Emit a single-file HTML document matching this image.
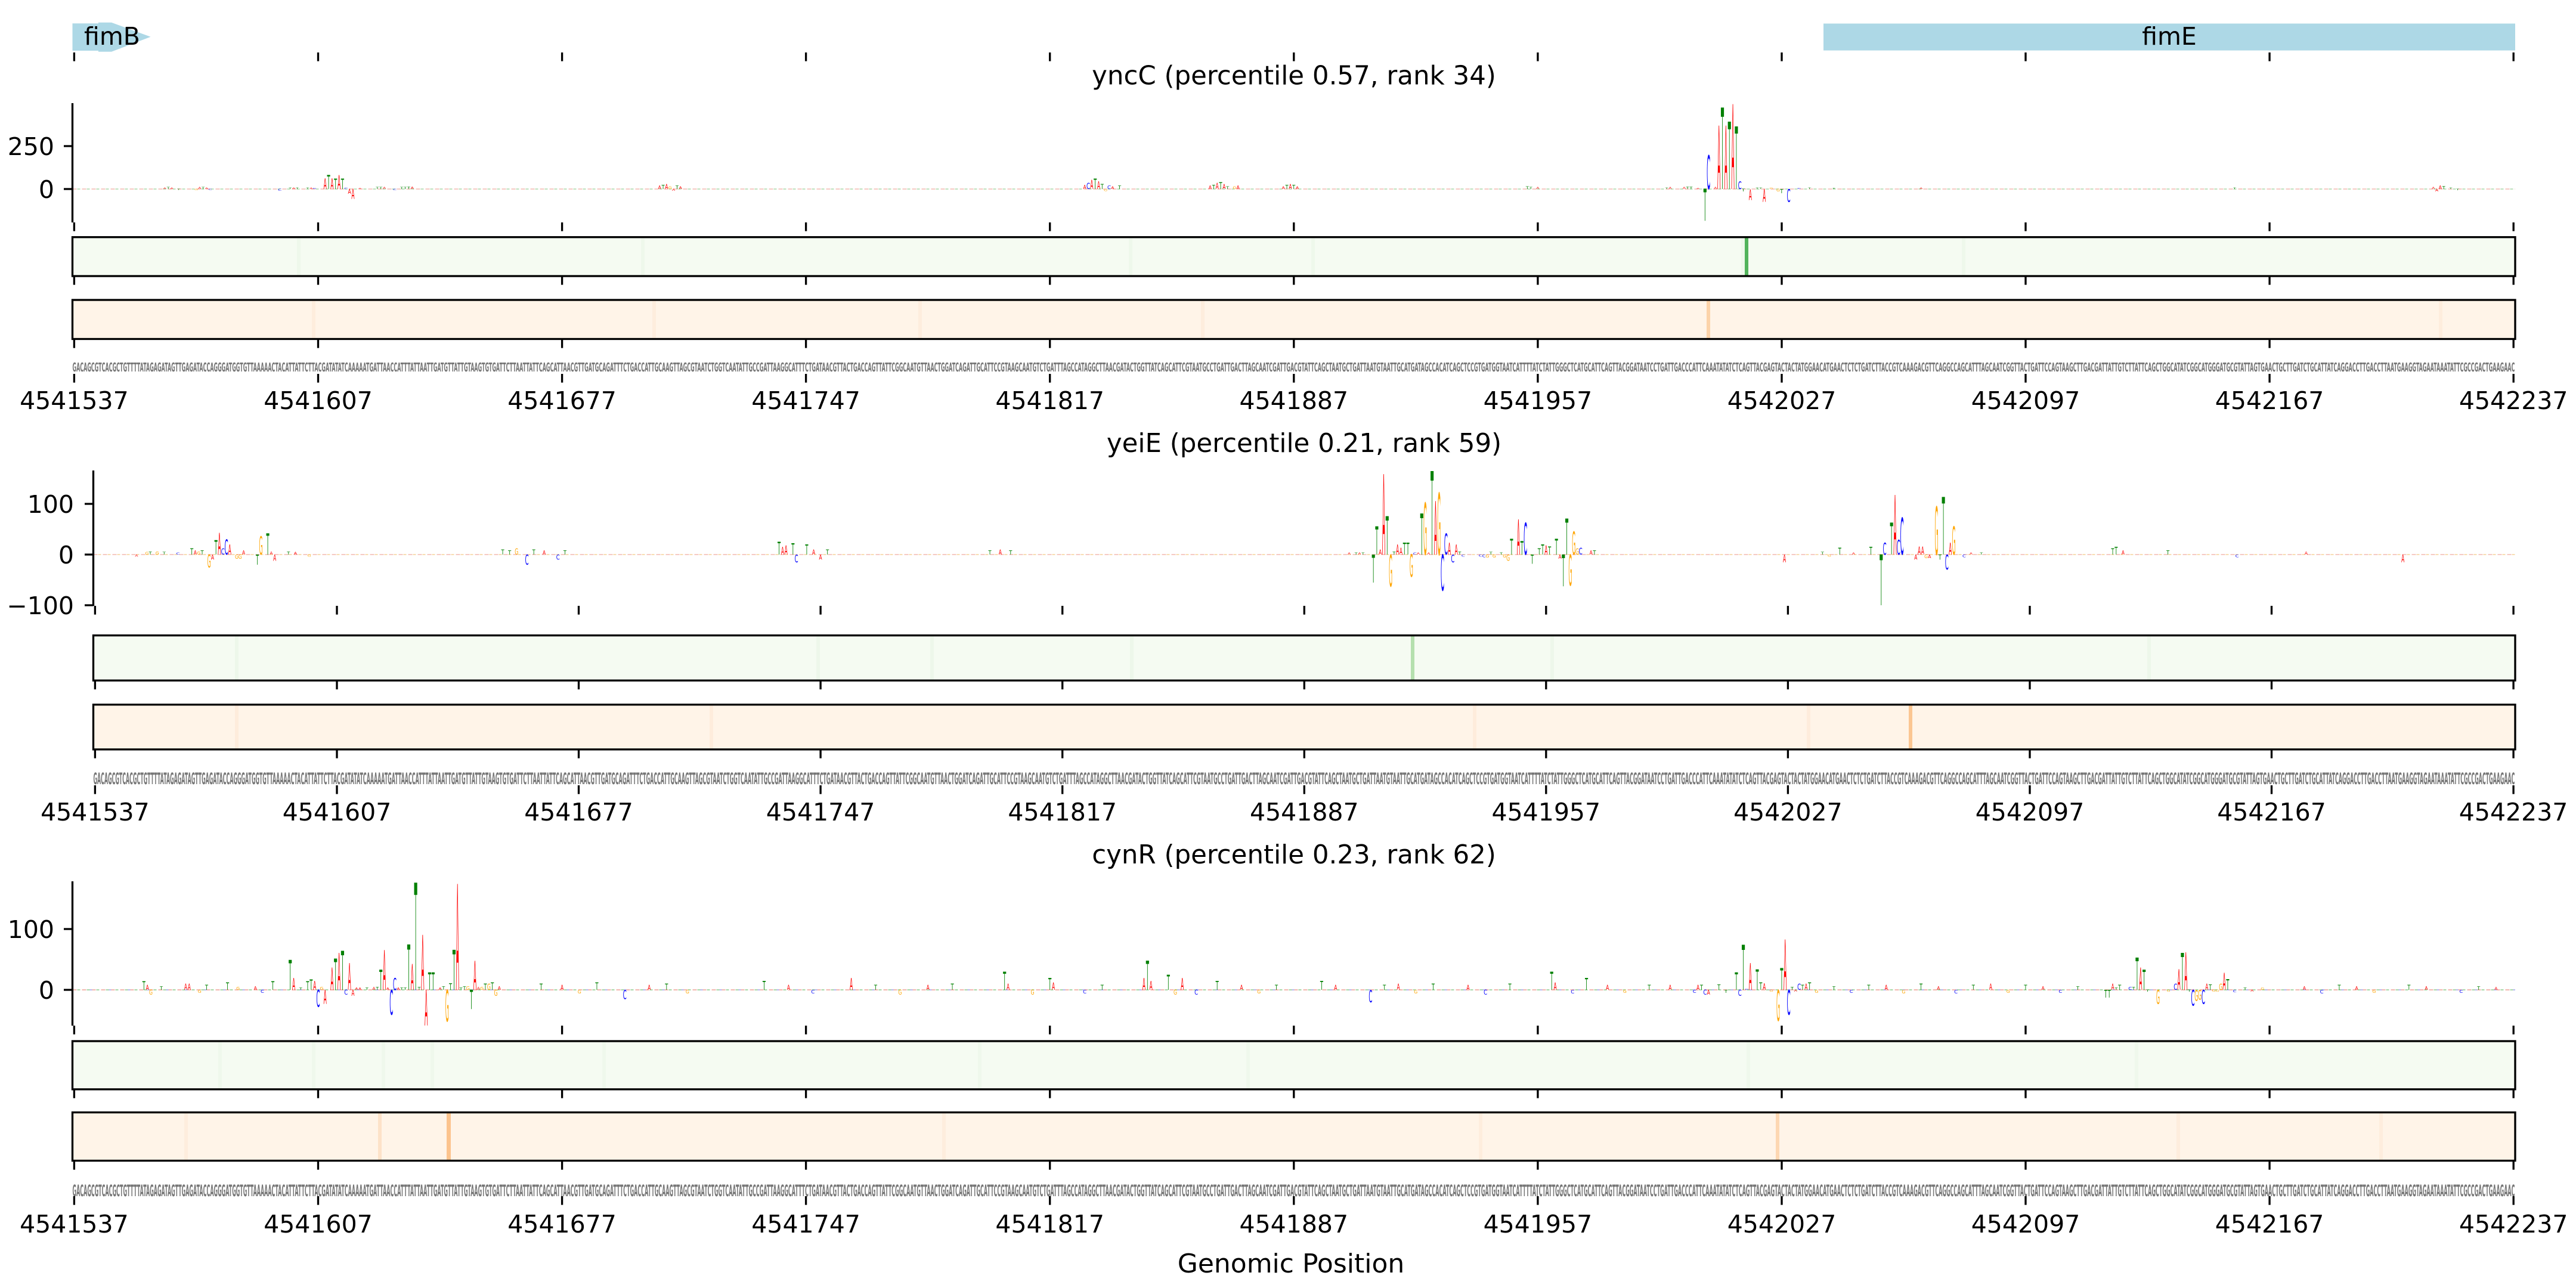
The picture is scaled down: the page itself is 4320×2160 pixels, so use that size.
<!DOCTYPE html>
<html><head><meta charset="utf-8"><style>
html,body{margin:0;padding:0;background:#fff}
svg{display:block}
.A{fill:#ff0000}.C{fill:#0000ff}.G{fill:#ffa500}.T{fill:#008000}
.lg text{font-family:"DejaVu Sans",sans-serif;font-size:100px;text-anchor:middle}
.tl{font-family:"DejaVu Sans",sans-serif;font-size:41px;text-anchor:middle;fill:#000}
.yl{font-family:"DejaVu Sans",sans-serif;font-size:41px;text-anchor:end;fill:#000}
.ti{font-family:"DejaVu Sans",sans-serif;font-size:43.5px;text-anchor:middle;fill:#000}
.sq{font-family:"DejaVu Sans",sans-serif;fill:#767676;font-weight:bold}
</style></head><body>
<svg width="4320" height="2160" viewBox="0 0 4320 2160" xmlns="http://www.w3.org/2000/svg">
<rect width="4320" height="2160" fill="#fff"/>
<defs>
<path id="t1" d="M124.4 0v14.6M533.5 0v14.6M942.6 0v14.6M1351.6 0v14.6M1760.7 0v14.6M2169.8 0v14.6M2578.9 0v14.6M2988 0v14.6M3397 0v14.6M3806.1 0v14.6M4215.2 0v14.6" stroke="#000" stroke-width="3.33" fill="none"/>
<path id="t2" d="M159.4 0v14.6M565 0v14.6M970.5 0v14.6M1376.1 0v14.6M1781.7 0v14.6M2187.3 0v14.6M2592.8 0v14.6M2998.4 0v14.6M3404 0v14.6M3809.5 0v14.6M4215.1 0v14.6" stroke="#000" stroke-width="3.33" fill="none"/>
</defs>

<!-- gene track -->
<polygon points="121.5,39.3 165,39.3 165,37.7 187,37.7 252.6,61.7 187,86.7 165,86.7 165,85 121.5,85" fill="#add8e6"/>
<rect x="3058" y="39.5" width="1160" height="45.1" fill="#add8e6"/>
<text class="tl" x="188" y="75">fimB</text>
<text class="tl" x="3638" y="75">fimE</text>
<use href="#t1" y="88"/>

<!-- ================= PANEL 1 ================= -->
<text class="ti" x="2170" y="141.5">yncC (percentile 0.57, rank 34)</text>
<line x1="121.5" y1="317" x2="4218" y2="317" stroke="#f3b8b0" stroke-width="1.6" stroke-dasharray="7 9"/>
<line x1="121.5" y1="317" x2="4218" y2="317" stroke="#a8d8a8" stroke-width="1.6" stroke-dasharray="5 11" stroke-dashoffset="8"/>
<svg x="121.5" y="173" width="4096.5" height="200" viewBox="-0.5 -500 701 695" preserveAspectRatio="none" overflow="visible" class="lg">
<text class="A" transform="translate(26,0)scale(.0129,.11)">A</text>
<text class="T" transform="translate(27,0)scale(.0144,.137)">T</text>
<text class="A" transform="translate(28,0)scale(.0129,.11)">A</text>
<text class="T" transform="translate(30,6)scale(.0144,.082)">T</text>
<text class="G" transform="translate(35,8)scale(.0133,.11)">G</text>
<text class="A" transform="translate(36,0)scale(.0129,.137)">A</text>
<text class="T" transform="translate(37,0)scale(.0144,.137)">T</text>
<text class="A" transform="translate(38,0)scale(.0129,.11)">A</text>
<text class="C" transform="translate(39,6)scale(.0147,.082)">C</text>
<text class="C" transform="translate(59,10)scale(.0147,.137)">C</text>
<text class="T" transform="translate(62,0)scale(.0144,.11)">T</text>
<text class="A" transform="translate(63,0)scale(.0129,.11)">A</text>
<text class="T" transform="translate(64,0)scale(.0144,.11)">T</text>
<text class="T" transform="translate(67,0)scale(.0144,.11)">T</text>
<text class="A" transform="translate(68,0)scale(.0129,.11)">A</text>
<text class="C" transform="translate(69,0)scale(.0147,.082)">C</text>
<text class="A" transform="translate(72,0)scale(.0129,.877)">A</text>
<text class="T" transform="translate(73,0)scale(.0144,1.11)">T</text>
<text class="A" transform="translate(74,0)scale(.0129,.877)">A</text>
<text class="T" transform="translate(75,0)scale(.0144,.822)">T</text>
<text class="A" transform="translate(76,0)scale(.0129,1.11)">A</text>
<text class="T" transform="translate(77,0)scale(.0144,.836)">T</text>
<text class="C" transform="translate(78,0)scale(.0147,.11)">C</text>
<text class="A" transform="translate(79,29)scale(.0129,.397)">A</text>
<text class="A" transform="translate(80,58)scale(.0129,.795)">A</text>
<text class="A" transform="translate(82,0)scale(.0129,.082)">A</text>
<text class="T" transform="translate(87,0)scale(.0144,.137)">T</text>
<text class="T" transform="translate(88,0)scale(.0144,.164)">T</text>
<text class="A" transform="translate(89,0)scale(.0129,.137)">A</text>
<text class="C" transform="translate(92,8)scale(.0147,.11)">C</text>
<text class="T" transform="translate(94,0)scale(.0144,.137)">T</text>
<text class="T" transform="translate(95,0)scale(.0144,.164)">T</text>
<text class="T" transform="translate(96,0)scale(.0144,.192)">T</text>
<text class="A" transform="translate(97,0)scale(.0129,.192)">A</text>
<text class="A" transform="translate(168,0)scale(.0129,.274)">A</text>
<text class="T" transform="translate(169,0)scale(.0144,.342)">T</text>
<text class="A" transform="translate(170,0)scale(.0129,.411)">A</text>
<text class="G" transform="translate(171,0)scale(.0133,.205)">G</text>
<text class="A" transform="translate(172,10)scale(.0129,.137)">A</text>
<text class="T" transform="translate(173,0)scale(.0144,.274)">T</text>
<text class="A" transform="translate(174,0)scale(.0129,.205)">A</text>
<text class="A" transform="translate(290,0)scale(.0129,.342)">A</text>
<text class="C" transform="translate(291,0)scale(.0147,.479)">C</text>
<text class="A" transform="translate(292,0)scale(.0129,.753)">A</text>
<text class="T" transform="translate(293,0)scale(.0144,.822)">T</text>
<text class="A" transform="translate(294,0)scale(.0129,.616)">A</text>
<text class="T" transform="translate(295,0)scale(.0144,.411)">T</text>
<text class="G" transform="translate(296,12)scale(.0133,.164)">G</text>
<text class="C" transform="translate(297,0)scale(.0147,.274)">C</text>
<text class="A" transform="translate(298,0)scale(.0129,.205)">A</text>
<text class="T" transform="translate(300,0)scale(.0144,.274)">T</text>
<text class="A" transform="translate(326,0)scale(.0129,.274)">A</text>
<text class="T" transform="translate(327,0)scale(.0144,.342)">T</text>
<text class="A" transform="translate(328,0)scale(.0129,.479)">A</text>
<text class="T" transform="translate(329,0)scale(.0144,.548)">T</text>
<text class="A" transform="translate(330,0)scale(.0129,.411)">A</text>
<text class="T" transform="translate(331,0)scale(.0144,.205)">T</text>
<text class="G" transform="translate(333,0)scale(.0133,.205)">G</text>
<text class="A" transform="translate(334,0)scale(.0129,.274)">A</text>
<text class="A" transform="translate(347,0)scale(.0129,.205)">A</text>
<text class="T" transform="translate(348,0)scale(.0144,.342)">T</text>
<text class="A" transform="translate(349,0)scale(.0129,.411)">A</text>
<text class="T" transform="translate(350,0)scale(.0144,.342)">T</text>
<text class="A" transform="translate(351,0)scale(.0129,.205)">A</text>
<text class="T" transform="translate(417,0)scale(.0144,.205)">T</text>
<text class="T" transform="translate(418,0)scale(.0144,.164)">T</text>
<text class="A" transform="translate(420,0)scale(.0129,.164)">A</text>
<text class="T" transform="translate(457,0)scale(.0144,.11)">T</text>
<text class="A" transform="translate(458,0)scale(.0129,.164)">A</text>
<text class="A" transform="translate(462,0)scale(.0129,.137)">A</text>
<text class="T" transform="translate(463,0)scale(.0144,.192)">T</text>
<text class="T" transform="translate(464,0)scale(.0144,.192)">T</text>
<text class="A" transform="translate(466,0)scale(.0129,.082)">A</text>
<text class="T" transform="translate(468,187)scale(.0144,2.562)">T</text>
<text class="C" transform="translate(469,0)scale(.0147,2.699)">C</text>
<text class="A" transform="translate(471,0)scale(.0129,.137)">A</text>
<text class="A" transform="translate(472,0)scale(.0129,5.068)">A</text>
<text class="T" transform="translate(473,0)scale(.0144,6.507)">T</text>
<text class="A" transform="translate(474,0)scale(.0129,5.068)">A</text>
<text class="T" transform="translate(475,0)scale(.0144,5.384)">T</text>
<text class="A" transform="translate(476,0)scale(.0129,6.781)">A</text>
<text class="T" transform="translate(477,0)scale(.0144,5)">T</text>
<text class="C" transform="translate(478,0)scale(.0147,.603)">C</text>
<text class="T" transform="translate(479,15)scale(.0144,.205)">T</text>
<text class="A" transform="translate(481,64)scale(.0129,.877)">A</text>
<text class="T" transform="translate(483,0)scale(.0144,.11)">T</text>
<text class="T" transform="translate(484,0)scale(.0144,.11)">T</text>
<text class="A" transform="translate(485,75)scale(.0129,1.027)">A</text>
<text class="G" transform="translate(487,0)scale(.0133,.11)">G</text>
<text class="G" transform="translate(489,15)scale(.0133,.205)">G</text>
<text class="T" transform="translate(490,25)scale(.0144,.342)">T</text>
<text class="C" transform="translate(492,75)scale(.0147,1.027)">C</text>
<text class="C" transform="translate(495,0)scale(.0147,.082)">C</text>
<text class="T" transform="translate(498,0)scale(.0144,.11)">T</text>
<text class="T" transform="translate(505,0)scale(.0144,.082)">T</text>
<text class="A" transform="translate(530,0)scale(.0129,.11)">A</text>
<text class="T" transform="translate(620,0)scale(.0144,.11)">T</text>
<text class="A" transform="translate(677,0)scale(.0129,.137)">A</text>
<text class="A" transform="translate(678,15)scale(.0129,.205)">A</text>
<text class="A" transform="translate(679,0)scale(.0129,.274)">A</text>
<text class="T" transform="translate(680,0)scale(.0144,.247)">T</text>
<text class="T" transform="translate(682,0)scale(.0144,.11)">T</text>
<text class="T" transform="translate(684,8)scale(.0144,.11)">T</text>
</svg>
<line x1="121.5" y1="173" x2="121.5" y2="373" stroke="#000" stroke-width="3.33"/>
<path d="M107 245h14.5M107 317h14.5" stroke="#000" stroke-width="3.33"/>
<text class="yl" x="91" y="260">250</text>
<text class="yl" x="91" y="332">0</text>
<use href="#t1" y="373"/>

<!-- green heat 1 -->
<rect x="121.5" y="397.7" width="4096.5" height="65.3" fill="#f5fbf2"/>
<g fill="#eef8eb"><rect x="498" y="397.7" width="6" height="65.3"/><rect x="1075" y="397.7" width="6" height="65.3"/><rect x="1893" y="397.7" width="6" height="65.3"/><rect x="2199" y="397.7" width="6" height="65.3"/><rect x="2920" y="397.7" width="6" height="65.3"/><rect x="3290" y="397.7" width="6" height="65.3"/></g>
<rect x="2926" y="397.7" width="6" height="65.3" fill="#52b35c"/>
<rect x="121.5" y="397.7" width="4096.5" height="65.3" fill="none" stroke="#000" stroke-width="3.33"/>
<use href="#t1" y="463"/>
<!-- orange heat 1 -->
<rect x="121.5" y="503" width="4096.5" height="65.5" fill="#fff4e8"/>
<g fill="#feeddd"><rect x="523" y="503" width="6" height="65.5"/><rect x="1094" y="503" width="6" height="65.5"/><rect x="1540" y="503" width="6" height="65.5"/><rect x="2014" y="503" width="6" height="65.5"/><rect x="4090" y="503" width="6" height="65.5"/></g>
<rect x="2862" y="503" width="6" height="65.5" fill="#fcd3a9"/>
<rect x="121.5" y="503" width="4096.5" height="65.5" fill="none" stroke="#000" stroke-width="3.33"/>
<use href="#t1" y="569"/>
<text class="sq" x="121.5" y="623" font-size="20.6" textLength="4096" lengthAdjust="spacingAndGlyphs">GACAGCGTCACGCTGTTTTATAGAGATAGTTGAGATACCAGGGATGGTGTTAAAAACTACATTATTCTTACGATATATCAAAAATGATTAACCATTTATTAATTGATGTTATTGTAAGTGTGATTCTTAATTATTCAGCATTAACGTTGATGCAGATTTCTGACCATTGCAAGTTAGCGTAATCTGGTCAATATTGCCGATTAAGGCATTTCTGATAACGTTACTGACCAGTTATTCGGCAATGTTAACTGGATCAGATTGCATTCCGTAAGCAATGTCTGATTTAGCCATAGGCTTAACGATACTGGTTATCAGCATTCGTAATGCCTGATTGACTTAGCAATCGATTGACGTATTCAGCTAATGCTGATTAATGTAATTGCATGATAGCCACATCAGCTCCGTGATGGTAATCATTTTATCTATTGGGCTCATGCATTCAGTTACGGATAATCCTGATTGACCCATTCAAATATATCTCAGTTACGAGTACTACTATGGAACATGAACTCTCTGATCTTACCGTCAAAGACGTTCAGGCCAGCATTTAGCAATCGGTTACTGATTCCAGTAAGCTTGACGATTATTGTCTTATTCAGCTGGCATATCGGCATGGGATGCGTATTAGTGAACTGCTTGATCTGCATTATCAGGACCTTGACCTTAATGAAGGTAGAATAAATATTCGCCGACTGAAGAAC</text>
<use href="#t1" y="627"/>
<g class="tl">
<text x="124.4" y="686">4541537</text><text x="533.5" y="686">4541607</text><text x="942.6" y="686">4541677</text><text x="1351.6" y="686">4541747</text><text x="1760.7" y="686">4541817</text><text x="2169.8" y="686">4541887</text><text x="2578.9" y="686">4541957</text><text x="2988" y="686">4542027</text><text x="3397" y="686">4542097</text><text x="3806.1" y="686">4542167</text><text x="4215.2" y="686">4542237</text>
</g>

<!-- ================= PANEL 2 ================= -->
<text class="ti" x="2187" y="758">yeiE (percentile 0.21, rank 59)</text>
<line x1="156.5" y1="930" x2="4218" y2="930" stroke="#f3b8b0" stroke-width="1.6" stroke-dasharray="7 9"/>
<line x1="156.5" y1="930" x2="4218" y2="930" stroke="#f5d49a" stroke-width="1.6" stroke-dasharray="5 11" stroke-dashoffset="8"/>
<svg x="156.5" y="789" width="4061.5" height="227" viewBox="-0.5 -166 701 267" preserveAspectRatio="none" overflow="visible" class="lg">
<text class="A" transform="translate(12,4)scale(.0129,.055)">A</text>
<text class="G" transform="translate(15,0)scale(.0133,.068)">G</text>
<text class="T" transform="translate(16,0)scale(.0144,.082)">T</text>
<text class="G" transform="translate(18,0)scale(.0133,.082)">G</text>
<text class="T" transform="translate(20,0)scale(.0144,.068)">T</text>
<text class="C" transform="translate(24,0)scale(.0147,.055)">C</text>
<text class="T" transform="translate(28,0)scale(.0144,.164)">T</text>
<text class="A" transform="translate(29,0)scale(.0129,.11)">A</text>
<text class="G" transform="translate(30,0)scale(.0133,.082)">G</text>
<text class="T" transform="translate(31,0)scale(.0144,.11)">T</text>
<text class="G" transform="translate(33,25)scale(.0133,.342)">G</text>
<text class="A" transform="translate(34,10)scale(.0129,.137)">A</text>
<text class="T" transform="translate(35,0)scale(.0144,.384)">T</text>
<text class="A" transform="translate(36,0)scale(.0129,.589)">A</text>
<text class="C" transform="translate(37,0)scale(.0147,.164)">C</text>
<text class="C" transform="translate(38,0)scale(.0147,.411)">C</text>
<text class="A" transform="translate(39,0)scale(.0129,.274)">A</text>
<text class="G" transform="translate(41,8)scale(.0133,.11)">G</text>
<text class="G" transform="translate(42,8)scale(.0133,.11)">G</text>
<text class="A" transform="translate(43,0)scale(.0129,.11)">A</text>
<text class="T" transform="translate(47,20)scale(.0144,.274)">T</text>
<text class="G" transform="translate(48,0)scale(.0133,.493)">G</text>
<text class="T" transform="translate(50,0)scale(.0144,.575)">T</text>
<text class="A" transform="translate(51,0)scale(.0129,.082)">A</text>
<text class="A" transform="translate(52,12)scale(.0129,.164)">A</text>
<text class="T" transform="translate(56,0)scale(.0144,.082)">T</text>
<text class="A" transform="translate(58,0)scale(.0129,.068)">A</text>
<text class="G" transform="translate(62,4)scale(.0133,.055)">G</text>
<text class="T" transform="translate(118,0)scale(.0144,.137)">T</text>
<text class="T" transform="translate(120,0)scale(.0144,.11)">T</text>
<text class="G" transform="translate(122,0)scale(.0133,.164)">G</text>
<text class="C" transform="translate(125,20)scale(.0147,.274)">C</text>
<text class="T" transform="translate(127,0)scale(.0144,.137)">T</text>
<text class="A" transform="translate(130,0)scale(.0129,.11)">A</text>
<text class="C" transform="translate(134,10)scale(.0147,.137)">C</text>
<text class="T" transform="translate(136,0)scale(.0144,.11)">T</text>
<text class="T" transform="translate(198,0)scale(.0144,.342)">T</text>
<text class="A" transform="translate(199,0)scale(.0129,.205)">A</text>
<text class="A" transform="translate(200,0)scale(.0129,.247)">A</text>
<text class="T" transform="translate(202,0)scale(.0144,.301)">T</text>
<text class="C" transform="translate(203,15)scale(.0147,.205)">C</text>
<text class="T" transform="translate(206,0)scale(.0144,.274)">T</text>
<text class="A" transform="translate(208,0)scale(.0129,.137)">A</text>
<text class="A" transform="translate(210,10)scale(.0129,.137)">A</text>
<text class="T" transform="translate(212,0)scale(.0144,.137)">T</text>
<text class="T" transform="translate(259,0)scale(.0144,.11)">T</text>
<text class="A" transform="translate(262,0)scale(.0129,.137)">A</text>
<text class="T" transform="translate(265,0)scale(.0144,.11)">T</text>
<text class="A" transform="translate(363,0)scale(.0129,.055)">A</text>
<text class="T" transform="translate(365,0)scale(.0144,.055)">T</text>
<text class="A" transform="translate(366,0)scale(.0129,.055)">A</text>
<text class="T" transform="translate(367,0)scale(.0144,.055)">T</text>
<text class="T" transform="translate(370,55)scale(.0144,.753)">T</text>
<text class="T" transform="translate(371,0)scale(.0144,.767)">T</text>
<text class="A" transform="translate(372,0)scale(.0129,.137)">A</text>
<text class="A" transform="translate(373,0)scale(.0129,2.178)">A</text>
<text class="T" transform="translate(374,0)scale(.0144,1.041)">T</text>
<text class="G" transform="translate(375,63)scale(.0133,.863)">G</text>
<text class="T" transform="translate(376,0)scale(.0144,.082)">T</text>
<text class="A" transform="translate(377,0)scale(.0129,.274)">A</text>
<text class="A" transform="translate(378,0)scale(.0129,.192)">A</text>
<text class="T" transform="translate(379,0)scale(.0144,.329)">T</text>
<text class="T" transform="translate(380,0)scale(.0144,.329)">T</text>
<text class="G" transform="translate(381,44)scale(.0133,.603)">G</text>
<text class="C" transform="translate(382,0)scale(.0147,.055)">C</text>
<text class="A" transform="translate(383,0)scale(.0129,.055)">A</text>
<text class="T" transform="translate(384,0)scale(.0144,1.11)">T</text>
<text class="G" transform="translate(385,0)scale(.0133,1.397)">G</text>
<text class="A" transform="translate(386,0)scale(.0129,.055)">A</text>
<text class="T" transform="translate(387,0)scale(.0144,2.26)">T</text>
<text class="A" transform="translate(388,0)scale(.0129,1.452)">A</text>
<text class="G" transform="translate(389,0)scale(.0133,1.671)">G</text>
<text class="C" transform="translate(390,71)scale(.0147,.973)">C</text>
<text class="C" transform="translate(391,0)scale(.0147,.562)">C</text>
<text class="A" transform="translate(392,0)scale(.0129,.329)">A</text>
<text class="C" transform="translate(393,15)scale(.0147,.205)">C</text>
<text class="A" transform="translate(394,0)scale(.0129,.274)">A</text>
<text class="T" transform="translate(395,0)scale(.0144,.082)">T</text>
<text class="C" transform="translate(396,4)scale(.0147,.055)">C</text>
<text class="C" transform="translate(401,4)scale(.0147,.055)">C</text>
<text class="C" transform="translate(402,5)scale(.0147,.068)">C</text>
<text class="G" transform="translate(403,6)scale(.0133,.082)">G</text>
<text class="T" transform="translate(404,0)scale(.0144,.068)">T</text>
<text class="G" transform="translate(405,6)scale(.0133,.082)">G</text>
<text class="T" transform="translate(407,0)scale(.0144,.055)">T</text>
<text class="G" transform="translate(408,6)scale(.0133,.082)">G</text>
<text class="G" transform="translate(409,12)scale(.0133,.164)">G</text>
<text class="T" transform="translate(410,0)scale(.0144,.425)">T</text>
<text class="A" transform="translate(412,0)scale(.0129,.959)">A</text>
<text class="T" transform="translate(413,0)scale(.0144,.37)">T</text>
<text class="C" transform="translate(414,0)scale(.0147,.863)">C</text>
<text class="T" transform="translate(416,18)scale(.0144,.247)">T</text>
<text class="T" transform="translate(418,0)scale(.0144,.164)">T</text>
<text class="T" transform="translate(419,0)scale(.0144,.274)">T</text>
<text class="A" transform="translate(420,0)scale(.0129,.247)">A</text>
<text class="T" transform="translate(421,0)scale(.0144,.219)">T</text>
<text class="T" transform="translate(423,0)scale(.0144,.425)">T</text>
<text class="A" transform="translate(424,8)scale(.0129,.11)">A</text>
<text class="T" transform="translate(425,63)scale(.0144,.863)">T</text>
<text class="T" transform="translate(426,0)scale(.0144,.973)">T</text>
<text class="G" transform="translate(427,61)scale(.0133,.836)">G</text>
<text class="G" transform="translate(428,0)scale(.0133,.63)">G</text>
<text class="G" transform="translate(429,0)scale(.0133,.164)">G</text>
<text class="C" transform="translate(430,0)scale(.0147,.192)">C</text>
<text class="A" transform="translate(433,0)scale(.0129,.11)">A</text>
<text class="T" transform="translate(434,0)scale(.0144,.11)">T</text>
<text class="A" transform="translate(489,15)scale(.0129,.205)">A</text>
<text class="T" transform="translate(500,0)scale(.0144,.068)">T</text>
<text class="G" transform="translate(502,4)scale(.0133,.055)">G</text>
<text class="T" transform="translate(505,0)scale(.0144,.192)">T</text>
<text class="A" transform="translate(509,0)scale(.0129,.055)">A</text>
<text class="T" transform="translate(514,0)scale(.0144,.205)">T</text>
<text class="T" transform="translate(517,100)scale(.0144,1.37)">T</text>
<text class="C" transform="translate(518,0)scale(.0147,.329)">C</text>
<text class="T" transform="translate(520,0)scale(.0144,.863)">T</text>
<text class="A" transform="translate(521,0)scale(.0129,1.616)">A</text>
<text class="C" transform="translate(522,0)scale(.0147,.397)">C</text>
<text class="C" transform="translate(523,0)scale(.0147,1)">C</text>
<text class="A" transform="translate(527,10)scale(.0129,.137)">A</text>
<text class="A" transform="translate(528,0)scale(.0129,.219)">A</text>
<text class="A" transform="translate(529,0)scale(.0129,.219)">A</text>
<text class="G" transform="translate(530,7)scale(.0133,.096)">G</text>
<text class="A" transform="translate(531,7)scale(.0129,.096)">A</text>
<text class="G" transform="translate(533,0)scale(.0133,1.301)">G</text>
<text class="T" transform="translate(534,10)scale(.0144,.137)">T</text>
<text class="T" transform="translate(535,0)scale(.0144,1.562)">T</text>
<text class="C" transform="translate(536,29)scale(.0147,.397)">C</text>
<text class="A" transform="translate(537,0)scale(.0129,.329)">A</text>
<text class="G" transform="translate(538,0)scale(.0133,.767)">G</text>
<text class="C" transform="translate(541,5)scale(.0147,.068)">C</text>
<text class="A" transform="translate(543,0)scale(.0129,.055)">A</text>
<text class="T" transform="translate(546,0)scale(.0144,.055)">T</text>
<text class="T" transform="translate(584,0)scale(.0144,.164)">T</text>
<text class="T" transform="translate(585,0)scale(.0144,.205)">T</text>
<text class="A" transform="translate(587,0)scale(.0129,.11)">A</text>
<text class="T" transform="translate(600,0)scale(.0144,.11)">T</text>
<text class="C" transform="translate(620,5)scale(.0147,.068)">C</text>
<text class="A" transform="translate(640,0)scale(.0129,.082)">A</text>
<text class="A" transform="translate(668,15)scale(.0129,.205)">A</text>
</svg>
<line x1="156.5" y1="789" x2="156.5" y2="1016" stroke="#000" stroke-width="3.33"/>
<path d="M142 845h14.5M142 930h14.5M142 1015h14.5" stroke="#000" stroke-width="3.33"/>
<text class="yl" x="124" y="860">100</text>
<text class="yl" x="124" y="945">0</text>
<text class="yl" x="124" y="1030">−100</text>
<use href="#t2" y="1016"/>

<rect x="156.5" y="1065.6" width="4061.5" height="75.6" fill="#f5fbf2"/>
<g fill="#edf7ea"><rect x="394" y="1065.6" width="6" height="75.6"/><rect x="1369" y="1065.6" width="6" height="75.6"/><rect x="1560" y="1065.6" width="6" height="75.6"/><rect x="1895" y="1065.6" width="6" height="75.6"/><rect x="2600" y="1065.6" width="6" height="75.6"/><rect x="3601" y="1065.6" width="6" height="75.6"/></g>
<rect x="2366" y="1065.6" width="6" height="75.6" fill="#b5e0ae"/>
<rect x="156.5" y="1065.6" width="4061.5" height="75.6" fill="none" stroke="#000" stroke-width="3.33"/>
<use href="#t2" y="1141.5"/>
<rect x="156.5" y="1181.7" width="4061.5" height="75.1" fill="#fff4e8"/>
<g fill="#feecdc"><rect x="394" y="1181.7" width="6" height="75.1"/><rect x="1190" y="1181.7" width="6" height="75.1"/><rect x="3030" y="1181.7" width="6" height="75.1"/><rect x="2470" y="1181.7" width="6" height="75.1"/></g>
<rect x="3201" y="1181.7" width="6" height="75.1" fill="#fbc692"/>
<rect x="156.5" y="1181.7" width="4061.5" height="75.1" fill="none" stroke="#000" stroke-width="3.33"/>
<use href="#t2" y="1257"/>
<text class="sq" x="156.5" y="1315" font-size="26.3" textLength="4061" lengthAdjust="spacingAndGlyphs">GACAGCGTCACGCTGTTTTATAGAGATAGTTGAGATACCAGGGATGGTGTTAAAAACTACATTATTCTTACGATATATCAAAAATGATTAACCATTTATTAATTGATGTTATTGTAAGTGTGATTCTTAATTATTCAGCATTAACGTTGATGCAGATTTCTGACCATTGCAAGTTAGCGTAATCTGGTCAATATTGCCGATTAAGGCATTTCTGATAACGTTACTGACCAGTTATTCGGCAATGTTAACTGGATCAGATTGCATTCCGTAAGCAATGTCTGATTTAGCCATAGGCTTAACGATACTGGTTATCAGCATTCGTAATGCCTGATTGACTTAGCAATCGATTGACGTATTCAGCTAATGCTGATTAATGTAATTGCATGATAGCCACATCAGCTCCGTGATGGTAATCATTTTATCTATTGGGCTCATGCATTCAGTTACGGATAATCCTGATTGACCCATTCAAATATATCTCAGTTACGAGTACTACTATGGAACATGAACTCTCTGATCTTACCGTCAAAGACGTTCAGGCCAGCATTTAGCAATCGGTTACTGATTCCAGTAAGCTTGACGATTATTGTCTTATTCAGCTGGCATATCGGCATGGGATGCGTATTAGTGAACTGCTTGATCTGCATTATCAGGACCTTGACCTTAATGAAGGTAGAATAAATATTCGCCGACTGAAGAAC</text>
<use href="#t2" y="1317"/>
<g class="tl">
<text x="159.4" y="1376">4541537</text><text x="565" y="1376">4541607</text><text x="970.5" y="1376">4541677</text><text x="1376.1" y="1376">4541747</text><text x="1781.7" y="1376">4541817</text><text x="2187.3" y="1376">4541887</text><text x="2592.8" y="1376">4541957</text><text x="2998.4" y="1376">4542027</text><text x="3404" y="1376">4542097</text><text x="3809.5" y="1376">4542167</text><text x="4215.1" y="1376">4542237</text>
</g>

<!-- ================= PANEL 3 ================= -->
<text class="ti" x="2170" y="1448">cynR (percentile 0.23, rank 62)</text>
<line x1="121.5" y1="1660" x2="4218" y2="1660" stroke="#f3b8b0" stroke-width="2" stroke-dasharray="7 9"/>
<line x1="121.5" y1="1660" x2="4218" y2="1660" stroke="#a8d8a8" stroke-width="2" stroke-dasharray="5 11" stroke-dashoffset="8"/>
<line x1="121.5" y1="1660" x2="4218" y2="1660" stroke="#b8b8f0" stroke-width="2" stroke-dasharray="4 28" stroke-dashoffset="3"/>
<svg x="121.5" y="1478" width="4096.5" height="242" viewBox="-0.5 -179 701 238" preserveAspectRatio="none" overflow="visible" class="lg">
<text class="T" transform="translate(20,0)scale(.0144,.192)">T</text>
<text class="A" transform="translate(21,0)scale(.0129,.11)">A</text>
<text class="G" transform="translate(22,8)scale(.0133,.11)">G</text>
<text class="T" transform="translate(25,0)scale(.0144,.082)">T</text>
<text class="A" transform="translate(32,0)scale(.0129,.137)">A</text>
<text class="A" transform="translate(33,0)scale(.0129,.137)">A</text>
<text class="G" transform="translate(36,5)scale(.0133,.068)">G</text>
<text class="T" transform="translate(38,0)scale(.0144,.11)">T</text>
<text class="T" transform="translate(44,0)scale(.0144,.164)">T</text>
<text class="G" transform="translate(47,0)scale(.0133,.068)">G</text>
<text class="A" transform="translate(52,0)scale(.0129,.082)">A</text>
<text class="C" transform="translate(54,5)scale(.0147,.068)">C</text>
<text class="T" transform="translate(57,0)scale(.0144,.192)">T</text>
<text class="T" transform="translate(62,0)scale(.0144,.671)">T</text>
<text class="A" transform="translate(63,0)scale(.0129,.274)">A</text>
<text class="T" transform="translate(65,0)scale(.0144,.055)">T</text>
<text class="T" transform="translate(67,0)scale(.0144,.192)">T</text>
<text class="T" transform="translate(68,0)scale(.0144,.233)">T</text>
<text class="A" transform="translate(69,0)scale(.0129,.205)">A</text>
<text class="C" transform="translate(70,28)scale(.0147,.384)">C</text>
<text class="G" transform="translate(71,0)scale(.0133,.068)">G</text>
<text class="A" transform="translate(72,23)scale(.0129,.315)">A</text>
<text class="A" transform="translate(74,0)scale(.0129,.507)">A</text>
<text class="T" transform="translate(75,0)scale(.0144,.712)">T</text>
<text class="A" transform="translate(76,0)scale(.0129,.836)">A</text>
<text class="T" transform="translate(77,0)scale(.0144,.89)">T</text>
<text class="C" transform="translate(78,8)scale(.0147,.11)">C</text>
<text class="A" transform="translate(79,0)scale(.0129,.603)">A</text>
<text class="A" transform="translate(80,10)scale(.0129,.137)">A</text>
<text class="A" transform="translate(81,0)scale(.0129,.055)">A</text>
<text class="A" transform="translate(82,0)scale(.0129,.055)">A</text>
<text class="T" transform="translate(84,0)scale(.0144,.055)">T</text>
<text class="A" transform="translate(86,0)scale(.0129,.068)">A</text>
<text class="T" transform="translate(87,0)scale(.0144,.068)">T</text>
<text class="T" transform="translate(88,0)scale(.0144,.452)">T</text>
<text class="A" transform="translate(89,0)scale(.0129,.904)">A</text>
<text class="A" transform="translate(90,0)scale(.0129,.055)">A</text>
<text class="C" transform="translate(91,41)scale(.0147,.562)">C</text>
<text class="C" transform="translate(92,0)scale(.0147,.274)">C</text>
<text class="A" transform="translate(93,0)scale(.0129,.055)">A</text>
<text class="T" transform="translate(94,0)scale(.0144,.055)">T</text>
<text class="T" transform="translate(95,0)scale(.0144,.055)">T</text>
<text class="T" transform="translate(96,0)scale(.0144,1.027)">T</text>
<text class="A" transform="translate(97,0)scale(.0129,.589)">A</text>
<text class="T" transform="translate(98,0)scale(.0144,2.425)">T</text>
<text class="T" transform="translate(99,0)scale(.0144,.068)">T</text>
<text class="A" transform="translate(100,0)scale(.0129,1.247)">A</text>
<text class="A" transform="translate(101,59)scale(.0129,.808)">A</text>
<text class="T" transform="translate(102,0)scale(.0144,.397)">T</text>
<text class="T" transform="translate(103,0)scale(.0144,.397)">T</text>
<text class="A" transform="translate(105,0)scale(.0129,.055)">A</text>
<text class="T" transform="translate(106,0)scale(.0144,.082)">T</text>
<text class="G" transform="translate(107,52)scale(.0133,.712)">G</text>
<text class="T" transform="translate(108,0)scale(.0144,.151)">T</text>
<text class="T" transform="translate(109,0)scale(.0144,.904)">T</text>
<text class="A" transform="translate(110,0)scale(.0129,2.397)">A</text>
<text class="T" transform="translate(111,0)scale(.0144,.055)">T</text>
<text class="T" transform="translate(112,0)scale(.0144,.082)">T</text>
<text class="G" transform="translate(113,0)scale(.0133,.082)">G</text>
<text class="T" transform="translate(114,32)scale(.0144,.438)">T</text>
<text class="A" transform="translate(115,0)scale(.0129,.658)">A</text>
<text class="A" transform="translate(116,0)scale(.0129,.068)">A</text>
<text class="G" transform="translate(117,0)scale(.0133,.068)">G</text>
<text class="T" transform="translate(118,0)scale(.0144,.137)">T</text>
<text class="G" transform="translate(119,0)scale(.0133,.137)">G</text>
<text class="T" transform="translate(120,0)scale(.0144,.164)">T</text>
<text class="G" transform="translate(121,10)scale(.0133,.137)">G</text>
<text class="A" transform="translate(122,0)scale(.0129,.082)">A</text>
<text class="T" transform="translate(134,0)scale(.0144,.137)">T</text>
<text class="A" transform="translate(140,0)scale(.0129,.11)">A</text>
<text class="G" transform="translate(145,6)scale(.0133,.082)">G</text>
<text class="T" transform="translate(150,0)scale(.0144,.164)">T</text>
<text class="C" transform="translate(158,15)scale(.0147,.205)">C</text>
<text class="A" transform="translate(165,0)scale(.0129,.11)">A</text>
<text class="T" transform="translate(170,0)scale(.0144,.137)">T</text>
<text class="G" transform="translate(176,6)scale(.0133,.082)">G</text>
<text class="T" transform="translate(198,0)scale(.0144,.205)">T</text>
<text class="A" transform="translate(205,0)scale(.0129,.11)">A</text>
<text class="C" transform="translate(212,6)scale(.0147,.082)">C</text>
<text class="A" transform="translate(223,0)scale(.0129,.274)">A</text>
<text class="T" transform="translate(230,0)scale(.0144,.11)">T</text>
<text class="G" transform="translate(237,8)scale(.0133,.11)">G</text>
<text class="A" transform="translate(245,0)scale(.0129,.11)">A</text>
<text class="T" transform="translate(252,0)scale(.0144,.137)">T</text>
<text class="T" transform="translate(267,0)scale(.0144,.411)">T</text>
<text class="A" transform="translate(268,0)scale(.0129,.137)">A</text>
<text class="G" transform="translate(275,8)scale(.0133,.11)">G</text>
<text class="T" transform="translate(280,0)scale(.0144,.274)">T</text>
<text class="A" transform="translate(281,0)scale(.0129,.164)">A</text>
<text class="C" transform="translate(290,6)scale(.0147,.082)">C</text>
<text class="T" transform="translate(295,0)scale(.0144,.11)">T</text>
<text class="A" transform="translate(307,0)scale(.0129,.274)">A</text>
<text class="T" transform="translate(308,0)scale(.0144,.658)">T</text>
<text class="A" transform="translate(309,0)scale(.0129,.205)">A</text>
<text class="T" transform="translate(314,0)scale(.0144,.342)">T</text>
<text class="G" transform="translate(316,8)scale(.0133,.11)">G</text>
<text class="A" transform="translate(318,0)scale(.0129,.274)">A</text>
<text class="C" transform="translate(322,8)scale(.0147,.11)">C</text>
<text class="T" transform="translate(328,0)scale(.0144,.205)">T</text>
<text class="A" transform="translate(335,0)scale(.0129,.11)">A</text>
<text class="G" transform="translate(340,6)scale(.0133,.082)">G</text>
<text class="T" transform="translate(345,0)scale(.0144,.11)">T</text>
<text class="T" transform="translate(358,0)scale(.0144,.205)">T</text>
<text class="A" transform="translate(362,0)scale(.0129,.11)">A</text>
<text class="C" transform="translate(372,20)scale(.0147,.274)">C</text>
<text class="T" transform="translate(376,0)scale(.0144,.11)">T</text>
<text class="A" transform="translate(380,0)scale(.0129,.137)">A</text>
<text class="G" transform="translate(385,6)scale(.0133,.082)">G</text>
<text class="T" transform="translate(390,0)scale(.0144,.137)">T</text>
<text class="A" transform="translate(400,0)scale(.0129,.11)">A</text>
<text class="C" transform="translate(405,8)scale(.0147,.11)">C</text>
<text class="T" transform="translate(412,0)scale(.0144,.137)">T</text>
<text class="T" transform="translate(424,0)scale(.0144,.411)">T</text>
<text class="A" transform="translate(425,0)scale(.0129,.164)">A</text>
<text class="C" transform="translate(430,6)scale(.0147,.082)">C</text>
<text class="T" transform="translate(434,0)scale(.0144,.274)">T</text>
<text class="A" transform="translate(440,0)scale(.0129,.11)">A</text>
<text class="G" transform="translate(445,5)scale(.0133,.068)">G</text>
<text class="T" transform="translate(452,0)scale(.0144,.11)">T</text>
<text class="A" transform="translate(458,0)scale(.0129,.11)">A</text>
<text class="C" transform="translate(465,5)scale(.0147,.068)">C</text>
<text class="A" transform="translate(466,0)scale(.0129,.11)">A</text>
<text class="T" transform="translate(467,0)scale(.0144,.11)">T</text>
<text class="C" transform="translate(468,8)scale(.0147,.11)">C</text>
<text class="A" transform="translate(469,8)scale(.0129,.11)">A</text>
<text class="T" transform="translate(472,0)scale(.0144,.123)">T</text>
<text class="T" transform="translate(474,5)scale(.0144,.068)">T</text>
<text class="T" transform="translate(477,0)scale(.0144,.397)">T</text>
<text class="C" transform="translate(478,10)scale(.0147,.137)">C</text>
<text class="T" transform="translate(479,0)scale(.0144,1.014)">T</text>
<text class="C" transform="translate(480,0)scale(.0147,.027)">C</text>
<text class="A" transform="translate(481,0)scale(.0129,.603)">A</text>
<text class="T" transform="translate(483,0)scale(.0144,.466)">T</text>
<text class="T" transform="translate(484,0)scale(.0144,.164)">T</text>
<text class="A" transform="translate(485,0)scale(.0129,.151)">A</text>
<text class="G" transform="translate(487,3)scale(.0133,.041)">G</text>
<text class="G" transform="translate(489,51)scale(.0133,.699)">G</text>
<text class="T" transform="translate(490,0)scale(.0144,.493)">T</text>
<text class="A" transform="translate(491,0)scale(.0129,1.137)">A</text>
<text class="C" transform="translate(492,41)scale(.0147,.562)">C</text>
<text class="T" transform="translate(493,0)scale(.0144,.068)">T</text>
<text class="A" transform="translate(494,3)scale(.0129,.041)">A</text>
<text class="C" transform="translate(495,0)scale(.0147,.137)">C</text>
<text class="T" transform="translate(496,0)scale(.0144,.11)">T</text>
<text class="A" transform="translate(497,0)scale(.0129,.137)">A</text>
<text class="T" transform="translate(498,0)scale(.0144,.164)">T</text>
<text class="G" transform="translate(500,5)scale(.0133,.068)">G</text>
<text class="T" transform="translate(505,0)scale(.0144,.082)">T</text>
<text class="C" transform="translate(510,5)scale(.0147,.068)">C</text>
<text class="T" transform="translate(515,0)scale(.0144,.11)">T</text>
<text class="A" transform="translate(520,0)scale(.0129,.11)">A</text>
<text class="G" transform="translate(525,6)scale(.0133,.082)">G</text>
<text class="T" transform="translate(530,0)scale(.0144,.137)">T</text>
<text class="A" transform="translate(535,0)scale(.0129,.082)">A</text>
<text class="C" transform="translate(540,6)scale(.0147,.082)">C</text>
<text class="T" transform="translate(545,0)scale(.0144,.11)">T</text>
<text class="A" transform="translate(550,0)scale(.0129,.137)">A</text>
<text class="G" transform="translate(555,5)scale(.0133,.068)">G</text>
<text class="T" transform="translate(560,0)scale(.0144,.11)">T</text>
<text class="A" transform="translate(565,0)scale(.0129,.082)">A</text>
<text class="C" transform="translate(570,5)scale(.0147,.068)">C</text>
<text class="T" transform="translate(575,0)scale(.0144,.082)">T</text>
<text class="T" transform="translate(583,13)scale(.0144,.178)">T</text>
<text class="T" transform="translate(584,13)scale(.0144,.178)">T</text>
<text class="A" transform="translate(585,0)scale(.0129,.137)">A</text>
<text class="T" transform="translate(586,0)scale(.0144,.055)">T</text>
<text class="T" transform="translate(587,0)scale(.0144,.11)">T</text>
<text class="C" transform="translate(590,0)scale(.0147,.068)">C</text>
<text class="T" transform="translate(591,0)scale(.0144,.068)">T</text>
<text class="T" transform="translate(592,0)scale(.0144,.726)">T</text>
<text class="A" transform="translate(593,0)scale(.0129,.507)">A</text>
<text class="T" transform="translate(594,0)scale(.0144,.452)">T</text>
<text class="T" transform="translate(595,3)scale(.0144,.041)">T</text>
<text class="G" transform="translate(598,23)scale(.0133,.315)">G</text>
<text class="G" transform="translate(601,3)scale(.0133,.041)">G</text>
<text class="C" transform="translate(603,0)scale(.0147,.137)">C</text>
<text class="A" transform="translate(604,0)scale(.0129,.466)">A</text>
<text class="T" transform="translate(605,0)scale(.0144,.836)">T</text>
<text class="A" transform="translate(606,0)scale(.0129,.849)">A</text>
<text class="T" transform="translate(607,3)scale(.0144,.041)">T</text>
<text class="C" transform="translate(608,26)scale(.0147,.356)">C</text>
<text class="G" transform="translate(609,18)scale(.0133,.247)">G</text>
<text class="G" transform="translate(610,16)scale(.0133,.219)">G</text>
<text class="C" transform="translate(611,23)scale(.0147,.315)">C</text>
<text class="A" transform="translate(612,0)scale(.0129,.137)">A</text>
<text class="T" transform="translate(613,0)scale(.0144,.123)">T</text>
<text class="G" transform="translate(614,3)scale(.0133,.041)">G</text>
<text class="G" transform="translate(615,3)scale(.0133,.041)">G</text>
<text class="G" transform="translate(616,0)scale(.0133,.137)">G</text>
<text class="A" transform="translate(617,0)scale(.0129,.384)">A</text>
<text class="T" transform="translate(618,0)scale(.0144,.247)">T</text>
<text class="C" transform="translate(620,4)scale(.0147,.055)">C</text>
<text class="T" transform="translate(623,0)scale(.0144,.055)">T</text>
<text class="A" transform="translate(625,3)scale(.0129,.041)">A</text>
<text class="G" transform="translate(628,0)scale(.0133,.055)">G</text>
<text class="A" transform="translate(640,0)scale(.0129,.082)">A</text>
<text class="C" transform="translate(645,6)scale(.0147,.082)">C</text>
<text class="T" transform="translate(650,0)scale(.0144,.11)">T</text>
<text class="A" transform="translate(655,0)scale(.0129,.082)">A</text>
<text class="G" transform="translate(660,5)scale(.0133,.068)">G</text>
<text class="T" transform="translate(670,0)scale(.0144,.11)">T</text>
<text class="A" transform="translate(675,0)scale(.0129,.082)">A</text>
<text class="C" transform="translate(685,5)scale(.0147,.068)">C</text>
<text class="T" transform="translate(690,0)scale(.0144,.082)">T</text>
<text class="A" transform="translate(695,0)scale(.0129,.068)">A</text>
</svg>
<line x1="121.5" y1="1478" x2="121.5" y2="1720" stroke="#000" stroke-width="3.33"/>
<path d="M107 1558h14.5M107 1660h14.5" stroke="#000" stroke-width="3.33"/>
<text class="yl" x="91" y="1573">100</text>
<text class="yl" x="91" y="1675">0</text>
<use href="#t1" y="1720"/>

<rect x="121.5" y="1746" width="4096.5" height="80.8" fill="#f5fbf2"/>
<g fill="#eff8ec"><rect x="366" y="1746" width="6" height="80.8"/><rect x="523" y="1746" width="6" height="80.8"/><rect x="640" y="1746" width="6" height="80.8"/><rect x="722" y="1746" width="6" height="80.8"/><rect x="1010" y="1746" width="6" height="80.8"/><rect x="1640" y="1746" width="6" height="80.8"/><rect x="2090" y="1746" width="6" height="80.8"/><rect x="2929" y="1746" width="6" height="80.8"/><rect x="3580" y="1746" width="6" height="80.8"/></g>
<rect x="121.5" y="1746" width="4096.5" height="80.8" fill="none" stroke="#000" stroke-width="3.33"/>
<use href="#t1" y="1827"/>
<rect x="121.5" y="1865.5" width="4096.5" height="81" fill="#fff4e8"/>
<g fill="#feeddd"><rect x="309" y="1865.5" width="6" height="81"/><rect x="1580" y="1865.5" width="6" height="81"/><rect x="2480" y="1865.5" width="6" height="81"/><rect x="3650" y="1865.5" width="6" height="81"/><rect x="3990" y="1865.5" width="6" height="81"/></g>
<rect x="634" y="1865.5" width="6" height="81" fill="#fde2c8"/>
<rect x="2978" y="1865.5" width="6" height="81" fill="#fdd7b2"/>
<rect x="749" y="1865.5" width="7" height="81" fill="#fcc38d"/>
<rect x="121.5" y="1865.5" width="4096.5" height="81" fill="none" stroke="#000" stroke-width="3.33"/>
<use href="#t1" y="1947"/>
<text class="sq" x="121.5" y="2006" font-size="26.6" textLength="4096" lengthAdjust="spacingAndGlyphs">GACAGCGTCACGCTGTTTTATAGAGATAGTTGAGATACCAGGGATGGTGTTAAAAACTACATTATTCTTACGATATATCAAAAATGATTAACCATTTATTAATTGATGTTATTGTAAGTGTGATTCTTAATTATTCAGCATTAACGTTGATGCAGATTTCTGACCATTGCAAGTTAGCGTAATCTGGTCAATATTGCCGATTAAGGCATTTCTGATAACGTTACTGACCAGTTATTCGGCAATGTTAACTGGATCAGATTGCATTCCGTAAGCAATGTCTGATTTAGCCATAGGCTTAACGATACTGGTTATCAGCATTCGTAATGCCTGATTGACTTAGCAATCGATTGACGTATTCAGCTAATGCTGATTAATGTAATTGCATGATAGCCACATCAGCTCCGTGATGGTAATCATTTTATCTATTGGGCTCATGCATTCAGTTACGGATAATCCTGATTGACCCATTCAAATATATCTCAGTTACGAGTACTACTATGGAACATGAACTCTCTGATCTTACCGTCAAAGACGTTCAGGCCAGCATTTAGCAATCGGTTACTGATTCCAGTAAGCTTGACGATTATTGTCTTATTCAGCTGGCATATCGGCATGGGATGCGTATTAGTGAACTGCTTGATCTGCATTATCAGGACCTTGACCTTAATGAAGGTAGAATAAATATTCGCCGACTGAAGAAC</text>
<use href="#t1" y="2006"/>
<g class="tl">
<text x="124.4" y="2067">4541537</text><text x="533.5" y="2067">4541607</text><text x="942.6" y="2067">4541677</text><text x="1351.6" y="2067">4541747</text><text x="1760.7" y="2067">4541817</text><text x="2169.8" y="2067">4541887</text><text x="2578.9" y="2067">4541957</text><text x="2988" y="2067">4542027</text><text x="3397" y="2067">4542097</text><text x="3806.1" y="2067">4542167</text><text x="4215.2" y="2067">4542237</text>
</g>
<text class="ti" x="2165" y="2134" style="font-size:44px">Genomic Position</text>
</svg>
</body></html>
